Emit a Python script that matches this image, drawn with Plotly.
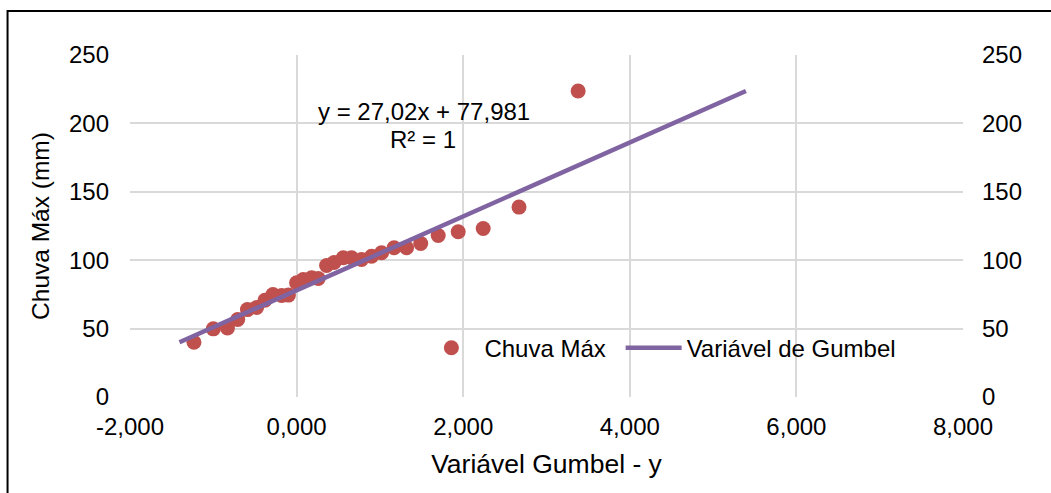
import plotly.graph_objects as go

# Data
gumbel_y = [-1.232, -1.0, -0.83, -0.707, -0.59, -0.48, -0.38, -0.284, -0.18, -0.098,
            0.0, 0.08, 0.18, 0.26, 0.36, 0.45, 0.56, 0.66, 0.78, 0.90,
            1.02, 1.17, 1.32, 1.49, 1.70, 1.94, 2.24, 2.67, 3.38]
chuva_max = [40.0, 49.8, 50.5, 56.6, 63.9, 65.4, 70.7, 74.9, 74.2, 74.5,
             83.5, 85.9, 87.1, 86.6, 96.1, 98.3, 101.8, 101.8, 100.5, 102.9,
             105.4, 109.1, 109.1, 112.2, 118.1, 120.8, 123.2, 138.8, 223.7]

line_x = [-1.406, 5.394]
line_y = [40.0, 223.7]

x_tick_vals = [-2, 0, 2, 4, 6, 8]
x_tick_labels = ["-2,000", "0,000", "2,000", "4,000", "6,000", "8,000"]
y_tick_vals = [0, 50, 100, 150, 200, 250]

FONT = "Liberation Sans, Arial, sans-serif"
GRID = "#d9d9d9"

fig = go.Figure()
fig.add_trace(go.Scatter(
    x=gumbel_y, y=chuva_max, mode="markers", name="Chuva Máx",
    marker=dict(color="#C0504D", size=15, line=dict(width=0)),
    legend="legend",
))
fig.add_trace(go.Scatter(
    x=line_x, y=line_y, mode="lines", name="Variável de Gumbel",
    line=dict(color="#8064A2", width=4.5),
    legend="legend2",
))
fig.add_trace(go.Scatter(
    x=line_x, y=line_y, mode="lines", yaxis="y2", showlegend=False,
    line=dict(width=0), hoverinfo="skip", opacity=0,
))

fig.update_layout(
    width=1051, height=493,
    margin=dict(l=130, r=88, t=55, b=96),
    paper_bgcolor="white", plot_bgcolor="white",
    font=dict(family=FONT, size=24, color="#000000"),
    showlegend=True,
    legend=dict(
        orientation="h", x=0.3462, y=0.143, xanchor="left", yanchor="middle",
        bgcolor="rgba(0,0,0,0)", font=dict(size=24), itemwidth=56,
    ),
    legend2=dict(
        orientation="h", x=0.589, y=0.143, xanchor="left", yanchor="middle",
        bgcolor="rgba(0,0,0,0)", font=dict(size=24), itemwidth=56,
    ),
    xaxis=dict(
        range=[-2, 8], tickvals=x_tick_vals, ticktext=x_tick_labels,
        showgrid=True, gridcolor=GRID, gridwidth=1.5, zeroline=False,
        showline=False, ticks="", ticklabelstandoff=13,
        title=dict(text="Variável Gumbel - y", font=dict(size=26.5), standoff=15),
    ),
    yaxis=dict(
        range=[0, 250], tickvals=y_tick_vals,
        showgrid=True, gridcolor=GRID, gridwidth=1.5, zeroline=False,
        showline=False, ticks="", ticklabelstandoff=20,
        title=dict(text="Chuva Máx (mm)", font=dict(size=24.5), standoff=12),
    ),
    yaxis2=dict(
        range=[0, 250], tickvals=y_tick_vals, overlaying="y", side="right",
        showgrid=False, zeroline=False, showline=False, ticks="",
        ticklabelstandoff=18,
    ),
    annotations=[
        dict(x=1.534, y=208.5, xref="x", yref="y", text="y = 27,02x + 77,981",
             showarrow=False, font=dict(size=24), xanchor="center", yanchor="middle"),
        dict(x=1.52, y=188.5, xref="x", yref="y", text="R² = 1",
             showarrow=False, font=dict(size=24), xanchor="center", yanchor="middle"),
    ],
    shapes=[
        dict(type="rect", xref="paper", yref="paper",
             x0=-0.147, x1=1.3, y0=-0.5, y1=1.1287,
             line=dict(color="black", width=2), fillcolor="rgba(0,0,0,0)", layer="below"),
    ],
)

fig.write_html("out.html")
